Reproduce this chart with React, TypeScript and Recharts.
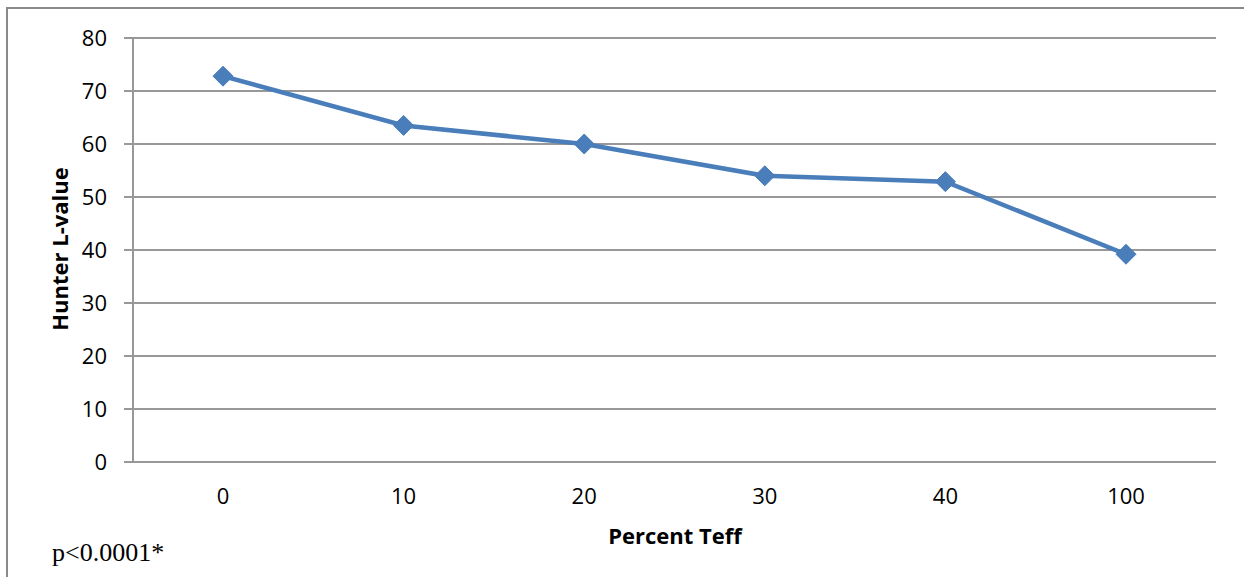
import React from 'react';
import { LineChart, Line, XAxis, YAxis, CartesianGrid } from 'recharts';

// values
const percentTeff = ['0', '10', '20', '30', '40', '100'];
const hunterL = [72.8, 63.5, 60.0, 54.0, 52.9, 39.2];
const yTicks = [0, 10, 20, 30, 40, 50, 60, 70, 80];

const data = percentTeff.map((p, i) => ({ pct: p, L: hunterL[i] }));

const BLUE = '#4a7ebb';
const GRID = '#989898';

const Diamond = (props: any) => {
  const { cx, cy } = props;
  if (cx == null || cy == null) return null;
  const r = 10;
  return (
    <polygon
      points={`${cx},${cy - r} ${cx + r},${cy} ${cx},${cy + r} ${cx - r},${cy}`}
      fill={BLUE}
      stroke={BLUE}
      strokeWidth={1}
    />
  );
};

const App: React.FC = () => {
  return (
    <div
      style={{
        position: 'absolute',
        left: 0,
        top: 0,
        width: 1244,
        height: 579,
        background: '#fff',
        overflow: 'hidden',
      }}
    >
      {/* partial frame like the cropped Excel chart area */}
      <div
        style={{
          position: 'absolute',
          left: 6,
          top: 7,
          width: 1250,
          height: 568,
          borderLeft: '2px solid #8a8a8a',
          borderTop: '2px solid #8a8a8a',
        }}
      />
      <LineChart
        width={1244}
        height={579}
        data={data}
        margin={{ top: 38, right: 28, bottom: 0, left: 0 }}
        style={{ position: 'absolute', left: 0, top: 0 }}
      >
        <CartesianGrid vertical={false} stroke={GRID} strokeWidth={2} />
        <XAxis
          dataKey="pct"
          type="category"
          height={117}
          padding={{ left: 90, right: 90 }}
          axisLine={{ stroke: GRID, strokeWidth: 2 }}
          tickLine={false}
          tickSize={0}
          tickMargin={26}
          tick={{ fill: '#000', fontSize: 22, fontFamily: '"Open Sans", sans-serif' }}
        />
        <YAxis
          width={133}
          domain={[0, 80]}
          ticks={yTicks}
          interval={0}
          axisLine={{ stroke: GRID, strokeWidth: 2 }}
          tickLine={{ stroke: GRID, strokeWidth: 2 }}
          tickSize={9}
          tickMargin={17}
          tick={{ fill: '#000', fontSize: 22, fontFamily: '"Open Sans", sans-serif' }}
        />
        <Line
          type="linear"
          dataKey="L"
          stroke={BLUE}
          strokeWidth={4.5}
          dot={<Diamond />}
          activeDot={false}
          isAnimationActive={false}
        />
      </LineChart>
      <svg
        width={1244}
        height={579}
        style={{ position: 'absolute', left: 0, top: 0, pointerEvents: 'none' }}
      >
        <text
          x={675}
          y={544}
          textAnchor="middle"
          fontFamily='"Open Sans", sans-serif'
          fontWeight="bold"
          fontSize={22}
          fill="#000"
        >
          Percent Teff
        </text>
        <text
          transform="translate(68,249) rotate(-90)"
          textAnchor="middle"
          fontFamily='"Open Sans", sans-serif'
          fontWeight="bold"
          fontSize={22}
          fill="#000"
        >
          Hunter L-value
        </text>
        <text
          x={52}
          y={561}
          fontFamily='"Liberation Serif", "Times New Roman", serif'
          fontSize={26}
          fill="#000"
        >
          p&lt;0.0001*
        </text>
      </svg>
    </div>
  );
};

export default App;
